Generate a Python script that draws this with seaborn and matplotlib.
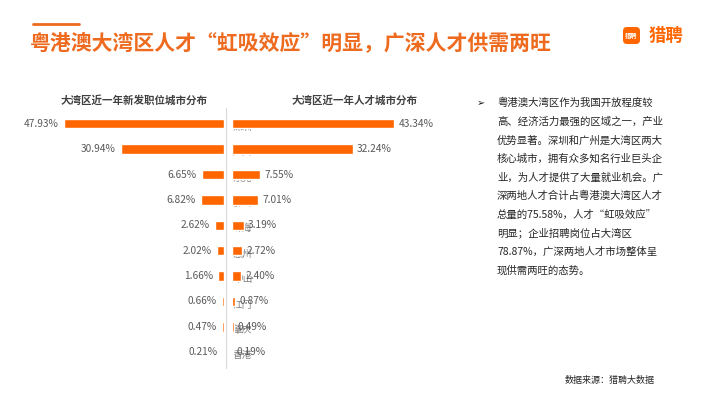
import matplotlib
matplotlib.use("Agg")
import matplotlib.pyplot as plt
import seaborn as sns
import pandas as pd
from matplotlib.lines import Line2D
from matplotlib.patches import FancyBboxPatch
from matplotlib.transforms import IdentityTransform

cities = ["深圳", "广州", "东莞", "佛山", "珠海", "惠州", "中山", "江门", "肇庆", "香港"]
jobs_share = [47.93, 30.94, 6.65, 6.82, 2.62, 2.02, 1.66, 0.66, 0.47, 0.21]
talent_share = [43.34, 32.24, 7.55, 7.01, 3.19, 2.72, 2.40, 0.87, 0.49, 0.19]

title = "粤港澳大湾区人才“虹吸效应”明显，广深人才供需两旺"
left_title = "大湾区近一年新发职位城市分布"
right_title = "大湾区近一年人才城市分布"
para_lines = [
    "粤港澳大湾区作为我国开放程度较",
    "高、经济活力最强的区域之一，产业",
    "优势显著。深圳和广州是大湾区两大",
    "核心城市，拥有众多知名行业巨头企",
    "业，为人才提供了大量就业机会。广",
    "深两地人才合计占粤港澳大湾区人才",
    "总量的75.58%，人才“虹吸效应”",
    "明显；企业招聘岗位占大湾区",
    "78.87%，广深两地人才市场整体呈",
    "现供需两旺的态势。",
]
source = "数据来源：猎聘大数据"

ORANGE = "#FF6600"
TITLE_ORANGE = "#EE6A1E"
GREY = "#595959"

sns.set_style("white")
plt.rcParams["font.family"] = ["Noto Sans CJK SC", "DejaVu Sans"]

W, H = 710, 399
fig = plt.figure(figsize=(W / 100, H / 100), dpi=100)


def fx(px):
    return px / W


def fy(py):
    return 1 - py / H


df = pd.DataFrame({"city": cities, "jobs": jobs_share, "talent": talent_share})

# left panel: new job postings, bars grow to the left
ax_l = fig.add_axes([fx(20), fy(365), (224 - 20) / W, 254 / H])
sns.barplot(data=df, x="jobs", y="city", orient="h", color=ORANGE,
            saturation=1, width=0.37, ax=ax_l)
ax_l.set_xlim(204 / 3.34, 0)
ax_l.bar_label(ax_l.containers[0], labels=[f"{v:.2f}%" for v in jobs_share],
               padding=4, fontsize=7.3, color=GREY)

# right panel: talent distribution, city names sit under the bars
ax_r = fig.add_axes([fx(232), fy(365), 228 / W, 254 / H])
for i, c in enumerate(cities):
    ax_r.text(0.2, i + 0.12, c, fontsize=7, color="#808080",
              ha="left", va="center", zorder=1)
sns.barplot(data=df, x="talent", y="city", orient="h", color=ORANGE,
            saturation=1, width=0.37, ax=ax_r)
for p in ax_r.patches:
    p.set_zorder(2)
ax_r.set_xlim(0, 228 / 3.74)
for t in ax_r.bar_label(ax_r.containers[0], labels=[f"{v:.2f}%" for v in talent_share],
                        padding=3, fontsize=7.3, color=GREY):
    t.set_zorder(3)

for ax in (ax_l, ax_r):
    ax.set_xlabel("")
    ax.set_ylabel("")
    ax.set_xticks([])
    ax.set_yticks([])
    for s in ax.spines.values():
        s.set_visible(False)
    ax.patch.set_alpha(0)

fig.add_artist(Line2D([fx(225.5), fx(225.5)], [fy(108), fy(368)],
                      color="#d9d9d9", lw=0.8))

fig.text(fx(134), fy(100), left_title, fontsize=7.6, color="#404040",
         ha="center", va="center", fontweight="bold")
fig.text(fx(355), fy(100), right_title, fontsize=7.6, color="#404040",
         ha="center", va="center", fontweight="bold")

# header
fig.add_artist(Line2D([fx(33), fx(79)], [fy(24), fy(24)], color=TITLE_ORANGE, lw=2))
fig.text(fx(30), fy(42.5), title, fontsize=15, color=TITLE_ORANGE,
         fontweight="bold", ha="left", va="center")

# logo
fig.add_artist(FancyBboxPatch((623, H - 44), 17, 17,
                              boxstyle="round,pad=0,rounding_size=4",
                              fc=ORANGE, ec="none", transform=IdentityTransform()))
fig.text(fx(631.5), fy(35.5), "猎聘", fontsize=4.5, color="white", ha="center",
         va="center", fontweight="bold")
fig.text(fx(649), fy(36), "猎聘", fontsize=12.5, color=ORANGE, ha="left",
         va="center", fontweight="bold")

# commentary
fig.text(fx(477), fy(103), "➢", fontsize=7, color="#222222", ha="left",
         va="center", family="DejaVu Sans")
for k, line in enumerate(para_lines):
    fig.text(fx(497), fy(103 + k * 18.6), line, fontsize=7.5, color="#262626",
             ha="left", va="center")

fig.text(fx(565), fy(381), source, fontsize=6.5, color="#262626",
         ha="left", va="center")

fig.savefig("out.png", dpi=100)
